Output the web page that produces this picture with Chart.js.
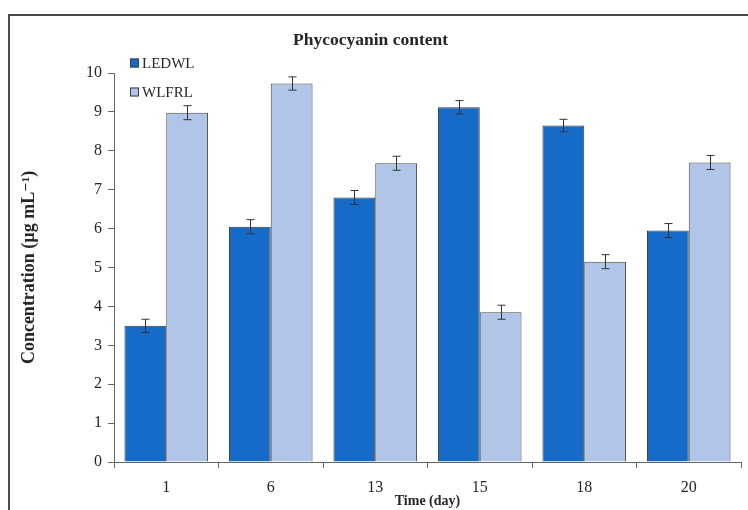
<!DOCTYPE html>
<html>
<head>
<meta charset="utf-8">
<script src="https://cdn.jsdelivr.net/npm/chart.js@4.4.1/dist/chart.umd.min.js"></script>
<style>
  body { margin: 0; background: #fff; overflow: hidden; }
  #wrap { position: relative; width: 748px; height: 510px; overflow: hidden; }
  #frame { position: absolute; left: 8px; top: 14px; width: 800px; height: 600px; border: 2px solid #4a4a4a; }
  #myChart { position: absolute; left: 0; top: 0; }
</style>
</head>
<body>
<div id="wrap">
  <div id="frame"></div>
  <canvas id="myChart" width="748" height="510"></canvas>
</div>
<script>
// chart data
var days = ["1", "6", "13", "15", "18", "20"];
var ledwl = [3.50, 6.05, 6.80, 9.12, 8.65, 5.95];
var ledwlErr = [0.17, 0.18, 0.18, 0.17, 0.16, 0.18];
var wlfrl = [8.98, 9.73, 7.68, 3.85, 5.15, 7.70];
var wlfrlErr = [0.18, 0.17, 0.18, 0.18, 0.18, 0.18];
var yTicks = [0, 1, 2, 3, 4, 5, 6, 7, 8, 9, 10];

var serif = "'Liberation Serif', 'DejaVu Serif', serif";
var textColor = "#262626";

// error bars drawn from the bar elements and y scale
const errorBars = {
    id: "errorBars",
    afterDatasetsDraw(chart) {
        const ctx = chart.ctx;
        const yScale = chart.scales.y;
        ctx.save();
        ctx.strokeStyle = "#333";
        ctx.lineWidth = 1;
        chart.data.datasets.forEach(function (ds, di) {
            const meta = chart.getDatasetMeta(di);
            meta.data.forEach(function (bar, i) {
                const v = ds.data[i];
                const e = ds.errors[i];
                const x = Math.round(bar.x) + 0.5;
                const y1 = yScale.getPixelForValue(v + e);
                const y2 = yScale.getPixelForValue(v - e);
                ctx.beginPath();
                ctx.moveTo(x, y1);
                ctx.lineTo(x, y2);
                ctx.moveTo(x - 4, y1);
                ctx.lineTo(x + 4, y1);
                ctx.moveTo(x - 4, y2);
                ctx.lineTo(x + 4, y2);
                ctx.stroke();
            });
        });
        ctx.restore();
    }
};

// legend drawn in the top-left corner of the plot
const innerLegend = {
    id: "innerLegend",
    afterDraw(chart) {
        const ctx = chart.ctx;
        const area = chart.chartArea;
        ctx.save();
        ctx.font = "15px " + serif;
        ctx.textBaseline = "middle";
        chart.data.datasets.forEach(function (ds, i) {
            const x = area.left + 16;
            const y = area.top - 10 + i * 29;
            ctx.fillStyle = ds.backgroundColor;
            ctx.fillRect(x, y - 4.5, 9, 9);
            ctx.strokeStyle = "#404040";
            ctx.lineWidth = 1;
            ctx.strokeRect(x + 0.5, y - 4, 8, 8);
            ctx.fillStyle = textColor;
            ctx.fillText(ds.label, x + 12, y + 1);
        });
        ctx.restore();
    }
};

const data = {
    labels: days,
    datasets: [
        {
            label: "LEDWL",
            data: ledwl,
            errors: ledwlErr,
            backgroundColor: "#156bc7",
            borderColor: "#3a3a3a",
            borderWidth: 1,
            categoryPercentage: 0.8,
            barPercentage: 1.0,
        },
        {
            label: "WLFRL",
            data: wlfrl,
            errors: wlfrlErr,
            backgroundColor: "#b1c5e8",
            borderColor: "#4a4a4a",
            borderWidth: 1,
            categoryPercentage: 0.8,
            barPercentage: 1.0,
        },
    ],
};

const config = {
    type: "bar",
    data,
    plugins: [errorBars, innerLegend],
    options: {
        responsive: false,
        animation: false,
        layout: { padding: { left: 0, right: 7, top: 0, bottom: 0 } },
        plugins: {
            legend: { display: false },
            tooltip: { enabled: false },
            title: {
                display: true,
                text: "Phycocyanin content",
                color: textColor,
                font: { family: serif, size: 17.5, weight: "bold" },
                padding: { top: 30, bottom: 22 },
            },
        },
        scales: {
            x: {
                afterFit: function (scale) { scale.height = 48; },
                grid: {
                    display: true,
                    offset: true,
                    drawOnChartArea: false,
                    drawTicks: true,
                    tickLength: 6,
                    color: "#666",
                },
                border: { display: true, color: "#666", width: 1 },
                ticks: {
                    color: textColor,
                    font: { family: serif, size: 16 },
                    padding: 10,
                },
                title: {
                    display: true,
                    text: "Time (day)",
                    color: textColor,
                    font: { family: serif, size: 14, weight: "bold" },
                    padding: { top: 0, bottom: 0 },
                },
            },
            y: {
                min: 0,
                max: 10,
                afterFit: function (scale) { scale.width = 114; },
                afterBuildTicks: function (scale) {
                    scale.ticks = yTicks.map(function (v) { return { value: v }; });
                },
                grid: {
                    display: true,
                    drawOnChartArea: false,
                    drawTicks: true,
                    tickLength: 6,
                    color: "#666",
                },
                border: { display: true, color: "#666", width: 1 },
                ticks: {
                    color: textColor,
                    font: { family: serif, size: 16 },
                    padding: 6,
                },
                title: {
                    display: true,
                    text: "Concentration (µg mL⁻¹)",
                    color: textColor,
                    font: { family: serif, size: 18, weight: "bold" },
                    padding: { top: 19, bottom: 0 },
                },
            },
        },
    },
};

myChart = new Chart(document.getElementById("myChart"), config);
</script>
</body>
</html>
